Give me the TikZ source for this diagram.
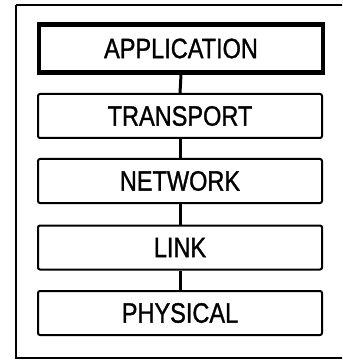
\documentclass[tikz,border=0pt]{standalone}
\usepackage{fontspec}
\setmainfont{Liberation Sans}
\newfontfamily\labfont[FakeBold=1.2]{Liberation Sans}
\newcommand{\lab}[1]{\scalebox{0.84}[1]{#1}}
\begin{document}
\begin{tikzpicture}[x=1pt,y=-1pt,
  layer/.style={draw=black,line width=2pt,rounded corners=2pt,minimum width=284pt,minimum height=44pt,inner sep=0pt,
    font=\labfont\fontsize{28}{28}\selectfont},
  link/.style={line width=3pt}]
\useasboundingbox (0,0) rectangle (342,363);
\clip (0,0) rectangle (342,363);
\draw[line width=2pt] (16,5) -- (360,5) (16,5) -- (16,358) -- (360,358);
\node[layer,line width=4.5pt,minimum height=48pt,rounded corners=0pt] (app) at (181,48.5) {\lab{APPLICATION}};
\node[layer] (tra) at (180,116) {\lab{TRANSPORT}};
\node[layer] (net) at (180,181) {\lab{NETWORK}};
\node[layer] (lnk) at (180,247.5) {\lab{LINK}};
\node[layer] (phy) at (180,313) {\lab{PHYSICAL}};
\draw[link] (app.south) -- (tra.north);
\draw[link] (tra.south) -- (net.north);
\draw[link] (net.south) -- (lnk.north);
\draw[link] (lnk.south) -- (phy.north);
\end{tikzpicture}
\end{document}
